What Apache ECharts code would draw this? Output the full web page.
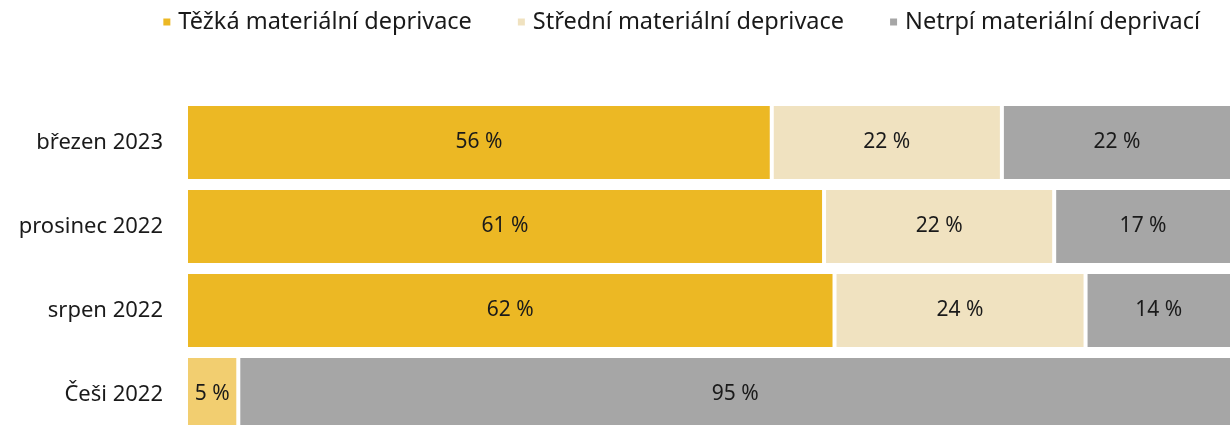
<!DOCTYPE html>
<html>
<head>
<meta charset="utf-8">
<script src="https://cdn.jsdelivr.net/npm/echarts@6/dist/echarts.min.js"></script>
<style>html,body{margin:0;padding:0;background:#fff}#c{width:1230px;height:425px}</style>
</head>
<body>
<div id="c"></div>
<script>
var categories = ['březen 2023', 'prosinec 2022', 'srpen 2022', 'Češi 2022'];
var seriesNames = ['Těžká materiální deprivace', 'Střední materiální deprivace', 'Netrpí materiální deprivací'];
var severe = [56, 61, 62, 5];
var moderate = [22, 22, 24, null];
var none = [22, 17, 14, 95];
var colors = ['#ecb824', '#f0e2c0', '#a6a6a6'];
var cesiSevereColor = '#f2ce70';

var FONT = 'Noto Sans';
var chart = echarts.init(document.getElementById('c'));
function mk(name, data, color, idx) {
  return {
    name: name,
    type: 'bar',
    stack: 'total',
    barWidth: 77,
    data: data.map(function (v, i) {
      if (idx === 0 && i === 3) return { value: v, itemStyle: { color: cesiSevereColor } };
      return v;
    }),
    itemStyle: { color: color, borderColor: '#ffffff', borderWidth: 2 },
    label: {
      show: true, position: 'inside', color: '#1a1a1a', fontFamily: FONT, fontSize: 21,
      formatter: function (p) { return p.value == null ? '' : p.value + ' %'; }
    },
    emphasis: { disabled: true }
  };
}
chart.setOption({
  animation: false,
  color: colors,
  legend: {
    right: 25, top: 5,
    itemWidth: 9, itemHeight: 9, itemGap: 44,
    icon: 'rect',
    textStyle: { fontFamily: FONT, fontSize: 23.5, color: '#1a1a1a', padding: [0, 0, 0, 2] },
    data: seriesNames
  },
  grid: { left: 186, width: 1046, top: 100.5, height: 336, containLabel: false, outerBoundsMode: 'none' },
  xAxis: { type: 'value', min: 0, max: 100, show: false },
  yAxis: {
    type: 'category', data: categories, inverse: true,
    axisLine: { show: false }, axisTick: { show: false },
    axisLabel: { fontFamily: FONT, fontSize: 22, color: '#1a1a1a', margin: 23 }
  },
  series: [
    mk(seriesNames[0], severe, colors[0], 0),
    mk(seriesNames[1], moderate, colors[1], 1),
    mk(seriesNames[2], none, colors[2], 2)
  ]
});
</script>
</body>
</html>
